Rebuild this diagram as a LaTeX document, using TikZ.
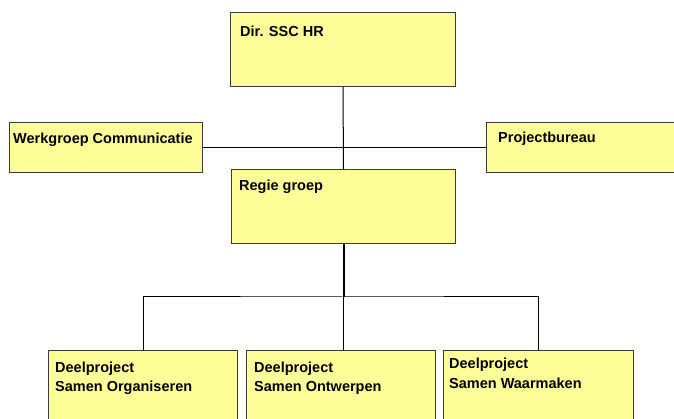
\documentclass[tikz,border=0pt]{standalone}
\usepackage{fontspec}
\setmainfont{Liberation Sans}
\usetikzlibrary{calc}
\definecolor{boxfill}{HTML}{FFFF99}
\definecolor{boxline}{HTML}{3A3A3A}
\begin{document}
\begin{tikzpicture}[x=1pt,y=-1pt,
  unitbox/.style={draw=boxline,fill=boxfill,line width=1pt,rectangle,
    anchor=north west,inner sep=0pt},
  lbl/.style={anchor=base west,inner sep=0pt,
    font=\fontsize{14.5}{19}\selectfont\bfseries},
  lbltwo/.style={anchor=north west,inner sep=0pt,align=left,
    font=\fontsize{14.5}{19}\selectfont\bfseries},
  link/.style={draw=black,line width=1pt},
  trunk/.style={draw=black,line width=2pt}]
\useasboundingbox (0,0) rectangle (674,419);
\clip (0,0) rectangle (674,419);

% boxes
\node[unitbox,minimum width=225pt,minimum height=74pt] (dir) at (230,12) {};
\node[unitbox,minimum width=193pt,minimum height=50pt] (werk) at (9,122) {};
\node[unitbox,minimum width=200pt,minimum height=50pt] (proj) at (486,122) {};
\node[unitbox,minimum width=224pt,minimum height=74pt] (regie) at (231,169) {};
\node[unitbox,minimum width=189pt,minimum height=90pt] (dp1) at (48,350) {};
\node[unitbox,minimum width=189pt,minimum height=90pt] (dp2) at (246,350) {};
\node[unitbox,minimum width=190pt,minimum height=90pt] (dp3) at (443,350) {};

% connectors
\draw[link] (dir.south) -- (regie.north);
\draw[link] (werk.east) -- (proj.west);
\coordinate (bus) at ($(regie.south)+(0,53)$);
\draw[trunk] (regie.south) -- (bus);
\draw[link] (dp1.north) |- (bus) -| (dp3.north);
\draw[link] (bus) -- (bus |- dp2.north);

% labels
\node[lbl] (tdir) at (240,36.5) {Dir. SSC HR};
\node[lbl] (twerk) at (13,143.7) {Werkgroep Communicatie};
\node[lbl] (tproj) at (498,143) {Projectbureau};
\node[lbl] (tregie) at (239,191) {Regie groep};
\node[lbl] (tdp1) at (55,372) {Deelproject};
\node[lbl] (tdp1b) at (55,391) {Samen Organiseren};
\node[lbl] (tdp2) at (254,372) {Deelproject};
\node[lbl] (tdp2b) at (254,391) {Samen Ontwerpen};
\node[lbl] (tdp3) at (449,368) {Deelproject};
\node[lbl] (tdp3b) at (449,388) {Samen Waarmaken};
\end{tikzpicture}
\end{document}
